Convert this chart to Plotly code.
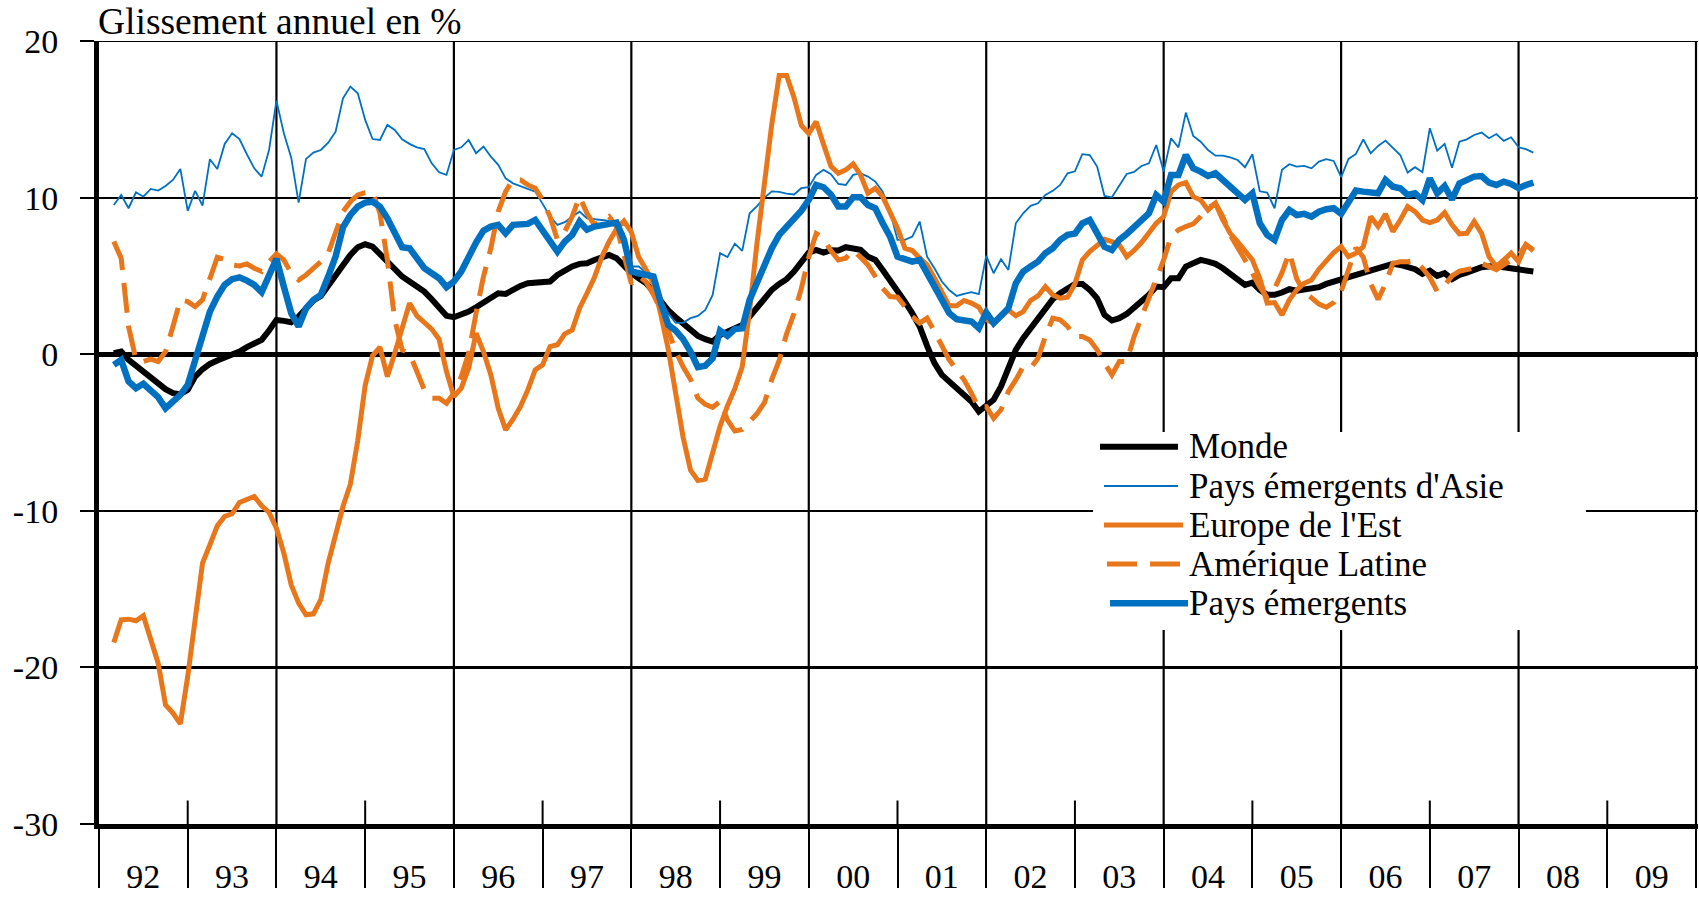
import plotly.graph_objects as go

# ---------------- data (monthly, year-on-year % change) ----------------
FIRST_MONTH = 2  # months after Jan 1992 of the first observation

monde = [
    0.06, 0.17, -0.36, -0.74, -1.11, -1.47, -1.81, -2.23, -2.49, -2.55, -2.28, -1.43, -0.96, -0.62, -0.40, -0.21,
    -0.04, 0.17, 0.45, 0.70, 0.91, 1.51, 2.19, 2.13, 2.04, 2.40, 2.94, 3.43, 3.72, 4.36, 5.00, 5.80,
    6.34, 6.83, 7.02, 6.87, 6.40, 5.91, 5.43, 4.96, 4.64, 4.32, 4.00, 3.51, 3.00, 2.45, 2.36, 2.51, 2.72,
    3.00, 3.30, 3.64, 3.89, 3.85, 4.15, 4.36, 4.53, 4.57, 4.57, 4.64, 5.06, 5.38, 5.60, 5.77, 5.81,
    6.02, 6.19, 6.34, 6.13, 5.60, 5.17, 4.85, 4.53, 4.00, 3.36, 2.79, 2.36, 1.98, 1.55, 1.17, 0.96, 0.81,
    1.23, 1.45, 1.72, 1.87, 2.40, 2.94, 3.51, 4.11, 4.49, 4.79, 5.28, 5.91, 6.49, 6.66, 6.49, 6.64,
    6.62, 6.83, 6.77, 6.66, 6.23, 6.02, 5.38, 4.74, 4.00, 3.36, 2.62, 1.77, 0.53, -0.57, -1.32, -1.74, -2.17,
    -2.49, -3.02, -3.66, -3.30, -2.91, -2.06, -1.00, 0.28, 1.02, 1.66, 2.30, 3.00, 3.51, 3.89, 4.21, 4.49,
    4.49, 4.11, 3.57, 2.51, 2.15, 2.30, 2.57, 2.94, 3.30, 3.79, 4.32, 4.28, 4.85, 4.85, 5.60, 5.77, 6.02,
    5.91, 5.77, 5.49, 5.13, 4.74, 4.43, 4.57, 4.11, 3.79, 3.79, 3.94, 4.15, 4.06, 4.11, 4.15, 4.28, 4.49,
    4.64, 4.70, 4.85, 5.00, 5.17, 5.34, 5.55, 5.70, 5.77, 5.70, 5.60, 5.43, 5.13, 5.34, 5.00, 5.17, 4.79,
    5.06, 5.21, 5.43, 5.55, 5.60, 5.64, 5.55, 5.49, 5.38, 5.34, 5.28,
]

asie = [
    9.53, 10.17, 9.32, 10.34, 10.06, 10.55, 10.45, 10.74, 11.13, 11.83, 9.15, 10.43, 9.49, 12.45, 11.83, 13.43,
    14.11, 13.74, 12.77, 11.87, 11.34, 13.04, 16.19, 14.11, 12.55, 9.68, 12.47, 12.87, 13.04, 13.51, 14.21, 16.34,
    17.09, 16.66, 14.96, 13.74, 13.68, 14.64, 14.32, 13.72, 13.43, 13.21, 13.10, 12.19, 11.62, 11.45, 13.04, 13.21,
    13.68, 12.83, 13.26, 12.62, 12.09, 11.23, 10.91, 10.74, 10.53, 10.38, 9.60, 8.79, 8.26, 8.43, 8.79, 9.10, 8.68,
    8.64, 8.57, 8.51, 8.36, 7.70, 5.60, 5.60, 5.20, 5.00, 3.50, 2.60, 2.00, 2.00, 2.30, 2.45, 2.83, 3.79,
    6.45, 6.20, 7.06, 6.60, 9.00, 9.45, 10.00, 10.40, 10.36, 10.26, 10.20, 10.60, 10.66, 11.45, 11.77, 11.50,
    10.87, 10.81, 11.45, 11.55, 11.34, 11.02, 10.38, 9.10, 7.30, 7.30, 7.51, 8.47, 6.23, 5.49, 4.64, 4.10, 3.72,
    3.85, 3.96, 3.83, 6.28, 5.17, 6.06, 5.38, 8.36, 9.00, 9.47, 9.64, 10.17, 10.43, 10.81, 11.55, 11.68,
    12.77, 12.72, 11.98, 10.11, 10.02, 10.74, 11.51, 11.64, 12.02, 12.19, 13.36, 11.66, 13.79, 13.21, 15.43, 13.94,
    13.57, 13.04, 12.68, 12.68, 12.57, 12.40, 11.94, 12.77, 10.40, 10.32, 9.32, 11.77, 12.13, 11.98, 12.02, 11.87,
    12.30, 12.45, 12.34, 11.30, 12.47, 12.79, 13.72, 12.83, 13.30, 13.64, 13.21, 12.72, 11.60, 11.94, 11.62, 14.43,
    13.00, 13.43, 11.91, 13.57, 13.72, 14.00, 14.15, 13.79, 14.06, 13.62, 13.85, 13.21, 13.09, 12.87,
]

europe = [
    -18.41, -16.96, -16.92, -17.02, -16.70, -18.24, -19.73, -22.39, -22.92, -23.60, -20.58, -16.96, -13.34, -12.17,
    -10.96, -10.36, -10.19, -9.47, -9.26, -9.09, -9.68, -10.11, -11.11, -12.70, -14.73, -15.90, -16.64, -16.58,
    -15.68, -13.34, -11.53, -9.73,
    -8.30, -5.50, -2.00, -0.10, 0.45, -1.43, 0.06, 1.77, 3.26, 2.45, 1.98, 1.60, 0.96, -1.11, -2.70, -2.17, -0.89,
    1.34, 0.17, -1.32, -3.45, -4.83, -4.15, -3.34, -2.28, -1.00, -0.68, 0.49, 0.60, 1.30, 1.55, 2.94, 3.89,
    4.90, 6.20, 7.20, 8.00, 8.50, 7.80, 6.20, 5.40, 4.50, 2.50, 0.30, -2.50, -5.30, -7.40, -8.06, -7.98, -6.30,
    -4.60, -3.30, -2.20, -0.80, 2.80, 7.10, 10.90, 14.70, 17.80, 17.80, 16.40, 14.60, 14.10, 14.85, 13.40, 12.00,
    11.55, 11.77, 12.15, 11.45, 10.28, 10.60, 10.06, 9.00, 8.04, 6.77, 6.62, 6.13, 5.70, 4.85, 4.00, 3.09, 3.09,
    3.43, 3.26, 3.00, 2.23, 1.98, 2.36, 2.83, 2.45, 2.72, 3.43, 3.72, 4.32, 3.79, 3.57, 3.64, 4.50,
    6.02, 6.55, 6.98, 7.34, 7.19, 6.98, 6.23, 6.62, 7.13, 7.72, 8.36, 8.79, 10.38, 10.81, 10.96, 10.06, 9.85,
    9.21, 9.64, 8.57, 7.72, 7.19, 6.66, 6.02, 4.85, 3.26, 3.30, 2.51, 3.47, 4.11, 4.53, 4.74, 5.43, 6.02,
    6.49, 6.87, 6.23, 6.45, 6.87, 8.79, 8.15, 8.96, 7.83, 8.57, 9.43, 9.10, 8.57, 8.40, 8.57, 9.04, 8.26,
    7.68, 7.72, 8.47, 7.72, 6.23, 5.60, 6.02, 6.45, 5.91, 6.98, 6.66,
]

amerique = [
    7.19, 6.13, 1.77, -0.36, -0.47, -0.32, -0.47, 0.17, 1.77, 3.47, 3.36, 3.04, 3.47, 4.96, 6.19, 6.06,
    5.70, 5.64, 5.77, 5.49, 5.28, 5.91, 6.40, 6.02, 5.17, 4.74, 5.06, 5.49, 5.91, 6.45, 7.72, 9.10,
    9.74, 10.17, 10.32, 10.38, 9.00, 6.02, 2.19, 0.28, 0.06, -1.11, -2.28, -2.81, -2.81, -3.13, -2.49, -1.43, 0.06,
    2.62, 4.96, 6.77, 9.11, 10.38, 11.17, 11.13, 10.81, 10.60, 9.85, 8.79, 7.30, 7.83, 8.79, 10.06, 9.00,
    8.26, 8.57, 8.79, 8.15, 6.45, 4.50, 5.00, 4.60, 3.80, 2.80, 1.50, 0.20, -0.80, -1.60, -2.80, -3.20, -3.40,
    -3.00, -4.20, -4.90, -4.80, -4.30, -3.80, -3.10, -1.60, -0.40, 1.30, 2.60, 4.20, 6.20, 7.70, 7.40, 6.60,
    6.02, 6.13, 6.66, 6.23, 5.70, 4.96, 4.21, 3.68, 3.64, 3.04, 2.40, 1.98, 2.30, 1.45, 0.60, -0.36, -1.00,
    -1.64, -2.49, -3.45, -3.34, -4.09, -3.55, -2.38, -1.64, -0.79, -0.89, -0.26, 1.13, 2.30, 2.19, 1.77, 1.13,
    1.13, 0.91, 0.28, -0.57, -1.32, -0.47, -0.47, 1.13, 2.40, 3.47, 4.96, 6.02, 7.51, 7.94, 8.15, 8.32, 8.79,
    9.32, 9.64, 8.79, 7.62, 6.87, 6.02, 5.17, 4.30, 3.60, 4.20, 5.20, 6.50, 4.80, 4.00, 3.60, 3.20, 3.00,
    3.30, 4.00, 5.50, 6.80, 6.20, 4.50, 3.50, 4.50, 5.80, 5.90, 5.90, 6.00, 5.50, 4.90, 4.00, 4.40, 5.00,
    5.30, 5.40, 5.50, 5.80, 5.60, 5.40, 5.70, 6.00, 6.30, 7.00, 6.60,
]

emergents = [
    -0.68, -0.36, -1.74, -2.17, -1.89, -2.28, -2.74, -3.45, -3.02, -2.60, -1.96, -0.36, 1.23, 2.72, 3.68, 4.43,
    4.79, 4.91, 4.70, 4.43, 3.96, 5.06, 6.09, 4.32, 2.62, 1.77, 2.94, 3.47, 3.79, 4.96, 6.23, 8.10,
    8.89, 9.43, 9.68, 9.74, 9.43, 8.68, 7.72, 6.83, 6.77, 6.13, 5.49, 5.17, 4.85, 4.28, 4.64, 5.28, 6.23,
    7.13, 7.89, 8.15, 8.26, 7.72, 8.26, 8.32, 8.32, 8.57, 7.89, 7.19, 6.55, 7.19, 7.62, 8.47, 7.95,
    8.15, 8.21, 8.36, 8.40, 7.30, 5.28, 5.17, 5.06, 4.96, 3.26, 1.87, 1.51, 0.96, 0.17, -0.83, -0.74, -0.26,
    1.51, 1.17, 1.60, 1.66, 3.47, 4.64, 5.77, 6.77, 7.62, 8.15, 8.57, 9.17, 9.85, 10.81, 10.66, 10.20,
    9.43, 9.43, 10.02, 10.02, 9.53, 9.32, 8.36, 7.51, 6.23, 6.02, 5.91, 6.02, 5.17, 4.32, 3.36, 2.62, 2.23,
    2.15, 2.09, 1.66, 2.66, 1.98, 2.40, 2.94, 4.53, 5.28, 5.60, 5.91, 6.45, 6.77, 7.30, 7.62, 7.70,
    8.36, 8.57, 7.72, 6.87, 6.66, 7.30, 7.68, 8.15, 8.62, 9.00, 10.17, 9.74, 11.45, 11.45, 12.72, 11.87, 11.66,
    11.38, 11.55, 11.13, 10.70, 10.28, 9.85, 10.28, 8.36, 7.62, 7.30, 8.57, 9.21, 8.89, 8.96, 8.79, 9.10, 9.26,
    9.32, 8.96, 9.74, 10.45, 10.38, 10.32, 10.28, 11.13, 10.70, 10.60, 10.17, 10.28, 9.85, 11.23, 10.28, 10.74, 9.89,
    10.91, 11.09, 11.34, 11.38, 10.96, 10.81, 11.02, 10.87, 10.60, 10.81, 10.96,
]

series_names = ["Monde", "Pays émergents d'Asie", "Europe de l'Est", "Amérique Latine", "Pays émergents"]
years = list(range(1992, 2011))
year_labels = ["92", "93", "94", "95", "96", "97", "98", "99", "00",
               "01", "02", "03", "04", "05", "06", "07", "08", "09"]
y_ticks = [-30, -20, -10, 0, 10, 20]
y_tick_labels = ["-30", "-20", "-10", "0", "10", "20"]
title_text = "Glissement annuel en %"

# ---------------- styling ----------------
FONT = "Liberation Serif, Times New Roman, serif"
BLUE = "#0070C0"
ORANGE = "#E8761B"
W, H = 1699, 897
# plot area in page pixels: x 99..1698, y 41..824
ML, MT, MR, MB = 99, 41, 1, 73
XMAX = 2010 + 2.0 / 88.7

styles = [
    dict(color="black", width=6),
    dict(color=BLUE, width=1.8),
    dict(color=ORANGE, width=5),
    dict(color=ORANGE, width=5, dash="30px,13px"),
    dict(color=BLUE, width=6.5),
]


def months(values):
    return [1992 + (FIRST_MONTH + i) / 12.0 for i in range(len(values))]


fig = go.Figure()
for name, vals, st in zip(series_names, [monde, asie, europe, amerique, emergents], styles):
    fig.add_trace(go.Scatter(x=months(vals), y=vals, mode="lines", name=name,
                             line=st, showlegend=False, hoverinfo="skip"))

plot_w = W - ML - MR
plot_h = H - MT - MB


def px(xp):  # page pixel -> paper
    return (xp - ML) / plot_w


def py(yp):
    return (H - MB - yp) / plot_h


shapes = []
# vertical grid lines every two years, short inner ticks on odd years
for yr in years:
    if (yr - 1992) % 2 == 0 and yr > 1992:
        shapes.append(dict(type="line", xref="x", yref="y", x0=yr, x1=yr, y0=-30, y1=20,
                           line=dict(color="black", width=2.2), layer="below"))
    elif (yr - 1992) % 2 == 1:
        shapes.append(dict(type="line", xref="x", yref="y", x0=yr, x1=yr, y0=-30, y1=-28.5,
                           line=dict(color="black", width=2), layer="below"))
# top border at y = 20
shapes.append(dict(type="line", xref="paper", yref="y", x0=0, x1=1, y0=20, y1=20,
                   line=dict(color="black", width=2.2), layer="below"))

# legend (custom, to mimic the long sample lines)
shapes.append(dict(type="rect", xref="paper", yref="paper", x0=px(1093), x1=px(1586),
                   y0=py(630), y1=py(432), fillcolor="white", line=dict(width=0), layer="above"))
legend_rows = [
    (446.7, 1100, 1178, styles[0]),
    (486.0, 1104, 1178, styles[1]),
    (525.0, 1104, 1183, styles[2]),
    (564.0, 1107, 1180, styles[3]),
    (603.3, 1110, 1188, styles[4]),
]
annotations = []
for (yy, xa, xb, st), name in zip(legend_rows, series_names):
    shapes.append(dict(type="line", xref="paper", yref="paper", x0=px(xa), x1=px(xb),
                       y0=py(yy), y1=py(yy), line=st, layer="above"))
    annotations.append(dict(text=name, xref="paper", yref="paper", x=px(1187), y=py(yy),
                            xanchor="left", yanchor="middle", showarrow=False,
                            font=dict(family=FONT, size=35, color="black")))

annotations.append(dict(text=title_text, xref="paper", yref="paper", x=0, y=1,
                        xanchor="left", yanchor="bottom", showarrow=False,
                        xshift=-2, yshift=-2, borderpad=0,
                        font=dict(family=FONT, size=37.5, color="black")))

fig.update_layout(
    width=W, height=H,
    margin=dict(l=ML, r=MR, t=MT, b=MB, pad=0, autoexpand=False),
    paper_bgcolor="white", plot_bgcolor="white",
    showlegend=False,
    font=dict(family=FONT, color="black"),
    shapes=shapes, annotations=annotations,
    xaxis=dict(
        range=[1992, XMAX], tickmode="array",
        tickvals=[y + 0.5 for y in years[:-1]], ticktext=year_labels,
        ticks="", showgrid=False, zeroline=False, automargin=False,
        showline=True, linecolor="black", linewidth=5,
        tickfont=dict(family=FONT, size=34, color="black"),
        ticklabelstandoff=18,
        minor=dict(tickmode="array", tickvals=years, ticks="outside", ticklen=59,
                   tickwidth=2, tickcolor="black", showgrid=False),
    ),
    yaxis=dict(
        range=[-30, 20], tickmode="array", tickvals=y_ticks, ticktext=y_tick_labels,
        showgrid=True, gridcolor="black", gridwidth=2.2, automargin=False,
        zeroline=True, zerolinecolor="black", zerolinewidth=5,
        showline=True, linecolor="black", linewidth=5,
        ticks="outside", ticklen=14, tickwidth=2, tickcolor="black",
        tickfont=dict(family=FONT, size=34, color="black"),
        ticklabelstandoff=15,
    ),
)

# remove the default 8px page margin so the figure fills the window exactly
fig.write_html("out.html", config={"displayModeBar": False, "staticPlot": True},
               post_script="document.body.style.margin='0';")
